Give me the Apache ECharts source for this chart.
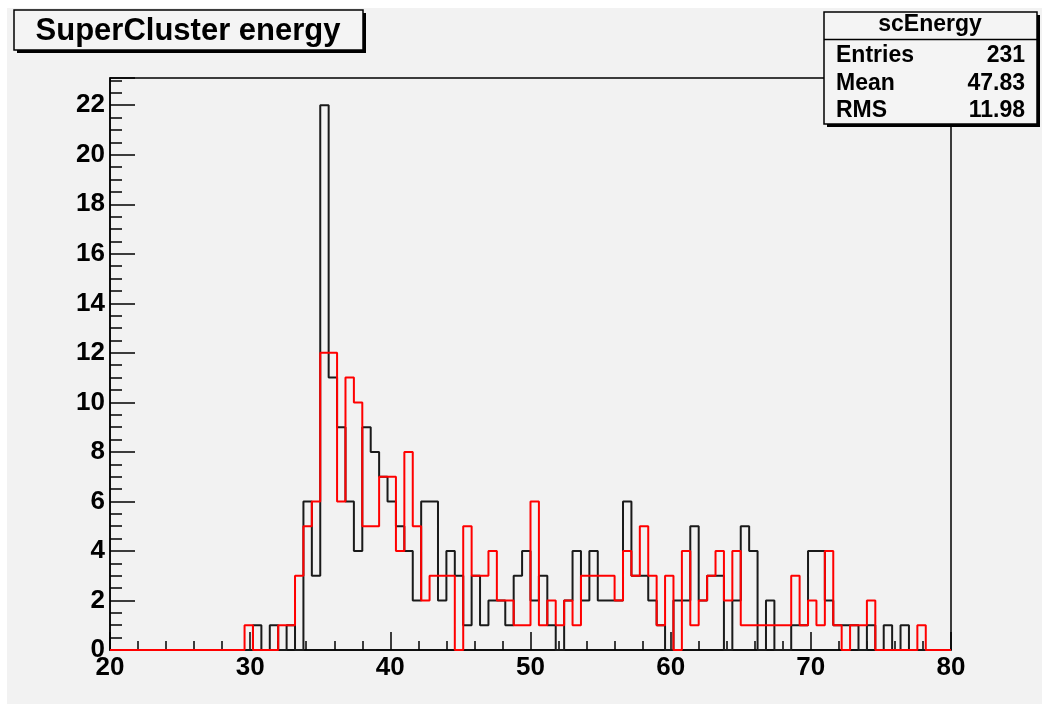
<!DOCTYPE html>
<html>
<head>
<meta charset="utf-8">
<script src="https://cdn.jsdelivr.net/npm/echarts@6/dist/echarts.min.js"></script>
<style>
html, body { margin: 0; padding: 0; background: #ffffff; }
#chart { width: 1042px; height: 716px; }
</style>
</head>
<body>
<div id="chart"></div>
<script>
//  histogram binning: 100 bins from 20 to 80
const binStart = 20;
const binWidth = 0.6;

//  black histogram (scEnergy)
const blackCounts = [
    0, 0, 0, 0, 0, 0, 0, 0, 0, 0,
    0, 0, 0, 0, 0, 0, 0, 1, 0, 1,
    0, 1, 0, 6, 3, 22, 11, 9, 6, 4,
    9, 8, 7, 6, 5, 4, 2, 6, 6, 2,
    4, 3, 1, 3, 1, 2, 2, 1, 3, 4,
    2, 3, 1, 0, 2, 4, 2, 4, 2, 2,
    2, 6, 3, 3, 2, 1, 0, 2, 2, 5,
    2, 3, 3, 0, 2, 5, 4, 0, 2, 0,
    0, 1, 1, 4, 4, 2, 1, 1, 1, 0,
    1, 0, 1, 0, 1, 0, 0, 0, 0, 0
];

//  red histogram (overlay)
const redCounts = [
    0, 0, 0, 0, 0, 0, 0, 0, 0, 0,
    0, 0, 0, 0, 0, 0, 1, 0, 0, 0,
    1, 1, 3, 5, 6, 12, 12, 6, 11, 10,
    5, 5, 7, 7, 4, 8, 5, 2, 3, 3,
    3, 0, 5, 3, 3, 4, 2, 2, 1, 1,
    6, 1, 2, 1, 2, 1, 3, 3, 3, 3,
    2, 4, 3, 5, 3, 1, 3, 0, 4, 1,
    2, 3, 4, 2, 4, 1, 1, 1, 1, 1,
    1, 3, 1, 2, 1, 4, 1, 0, 1, 1,
    2, 0, 0, 0, 0, 0, 1, 0, 0, 0
];

const titleText = 'SuperCluster energy';
const statName = 'scEnergy';
const statLabels = ['Entries', 'Mean', 'RMS'];
const statValues = ['231', '47.83', '11.98'];

const FONT = '"Liberation Sans", Arial, Helvetica, sans-serif';

//  bin lower edges -> step points
function toSteps(counts) {
    const pts = counts.map((c, i) => [binStart + i * binWidth, c]);
    pts.push([binStart + counts.length * binWidth, counts[counts.length - 1]]);
    return pts;
}

//  stats box rows
const statRows = [];
statLabels.forEach((lab, i) => {
    const y = 56 + i * 27.5;
    statRows.push({
        type: 'text', z: 103, silent: true,
        style: {text: lab, x: 836, y: y, font: 'bold 23px ' + FONT, fill: '#000', textAlign: 'left', textVerticalAlign: 'middle'}
    });
    statRows.push({
        type: 'text', z: 103, silent: true,
        style: {text: statValues[i], x: 1025, y: y, font: 'bold 23px ' + FONT, fill: '#000', textAlign: 'right', textVerticalAlign: 'middle'}
    });
});

const myChart = echarts.init(document.getElementById('chart'), null, {renderer: 'canvas'});
myChart.setOption({
    animation: false,
    backgroundColor: 'transparent',
    grid: {
        left: 110,
        top: 78,
        right: 91,
        bottom: 66,
        show: true,
        borderColor: '#000',
        borderWidth: 1.5,
        backgroundColor: 'transparent',
        containLabel: false,
    },
    xAxis: {
        type: 'value',
        min: 20,
        max: 80,
        interval: 10,
        axisLine: {show: true, onZero: false, lineStyle: {color: '#000', width: 1.5}},
        axisTick: {show: true, inside: true, length: 18, lineStyle: {color: '#000', width: 1.5}},
        minorTick: {show: true, splitNumber: 5, length: 9, lineStyle: {color: '#000', width: 1.5}},
        splitLine: {show: false},
        minorSplitLine: {show: false},
        axisLabel: {
            show: true, margin: 5, color: '#000',
            fontFamily: FONT, fontWeight: 'bold', fontSize: 26,
            hideOverlap: false,
        },
    },
    yAxis: {
        type: 'value',
        min: 0,
        max: 23.1,
        interval: 2,
        axisLine: {show: true, onZero: false, lineStyle: {color: '#000', width: 1.5}},
        axisTick: {show: true, inside: true, length: 25, lineStyle: {color: '#000', width: 1.5}},
        minorTick: {show: true, splitNumber: 4, length: 12, lineStyle: {color: '#000', width: 1.5}},
        splitLine: {show: false},
        minorSplitLine: {show: false},
        axisLabel: {
            show: true, margin: 5, color: '#000',
            fontFamily: FONT, fontWeight: 'bold', fontSize: 26,
            showMaxLabel: false,
            hideOverlap: false,
            formatter: function (v) {
                return v % 2 === 0 ? String(v) : '';
            }
        },
    },
    series: [
        {
            type: 'line',
            step: 'end',
            symbol: 'none',
            silent: true,
            z: 2,
            data: toSteps(blackCounts),
            lineStyle: {color: '#1a1a1a', width: 2},
        },
        {
            type: 'line',
            step: 'end',
            symbol: 'none',
            silent: true,
            z: 3,
            data: toSteps(redCounts),
            lineStyle: {color: '#ff0000', width: 2},
        },
    ],
    graphic: [
        //  canvas gray
        {type: 'rect', z: -10, silent: true, shape: {x: 7, y: 8, width: 1035, height: 696}, style: {fill: '#f2f2f2'}},
        //  title box
        {type: 'rect', z: 100, silent: true, shape: {x: 17, y: 13, width: 349, height: 40}, style: {fill: '#000'}},
        {type: 'rect', z: 101, silent: true, shape: {x: 14, y: 10, width: 349, height: 40}, style: {fill: '#f4f4f4', stroke: '#000', lineWidth: 1.5}},
        {type: 'text', z: 102, silent: true, style: {text: titleText, x: 188, y: 31, font: 'bold 31px ' + FONT, fill: '#000', textAlign: 'center', textVerticalAlign: 'middle'}},
        //  stats box
        {type: 'rect', z: 100, silent: true, shape: {x: 827, y: 15, width: 213, height: 112}, style: {fill: '#000'}},
        {type: 'rect', z: 101, silent: true, shape: {x: 824, y: 12, width: 213, height: 112}, style: {fill: '#f4f4f4', stroke: '#000', lineWidth: 1.5}},
        {type: 'line', z: 102, silent: true, shape: {x1: 824, y1: 39.5, x2: 1037, y2: 39.5}, style: {stroke: '#000', lineWidth: 1.5}},
        {type: 'text', z: 103, silent: true, style: {text: statName, x: 930, y: 25, font: 'bold 23px ' + FONT, fill: '#000', textAlign: 'center', textVerticalAlign: 'middle'}},
    ].concat(statRows),
});
</script>
</body>
</html>
